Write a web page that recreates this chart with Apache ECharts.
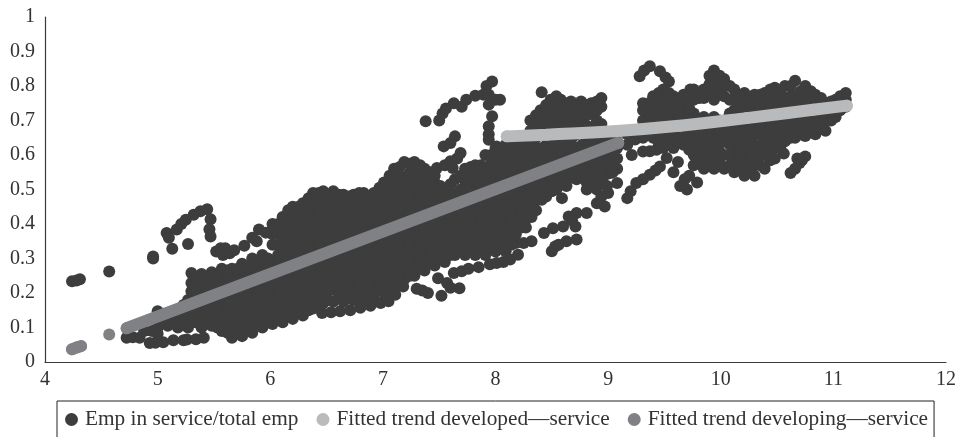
<!DOCTYPE html>
<html><head><meta charset="utf-8">
<script src="https://cdn.jsdelivr.net/npm/echarts@6/dist/echarts.min.js"></script>
<style>html,body{margin:0;padding:0;background:#fff}#c{width:959px;height:437px}</style>
</head><body><div id="c"></div>
<script>
const seriesNames = ["Emp in service/total emp","Fitted trend developed\u2014service","Fitted trend developing\u2014service"];
const empOutliers = [[4.24,.234],[4.28,.236],[4.31,.24],[4.57,.262],[4.96,.30],[4.96,.306],[5.13,.328],[5.27,.342],
 [5.08,.374],[5.1,.36],[5.17,.384],[5.21,.40],[5.25,.412],[5.32,.427],[5.38,.437],[5.44,.443],[5.47,.414],[5.46,.385],[5.47,.364],
 [5.52,.32],[5.56,.33],[5.6,.33],[5.58,.31],[5.64,.315],[5.68,.324],[5.77,.337],[5.84,.36],[5.9,.384],[5.88,.35],[5.96,.375],[6.02,.385],
 [4.725,.07],[4.78,.072],[4.84,.07],[4.93,.055],[4.98,.056],[5.05,.057],[5.14,.063],[5.23,.063],[5.26,.065],[5.34,.066],[5.41,.07],
 [4.88,.09],[4.95,.09],[5.0,.082]];
const empUpperChains = [[7.38,.698],[7.5,.7],[7.53,.72],[7.56,.735],[7.63,.75],[7.7,.74],[7.74,.76],[7.82,.772],[7.89,.775],[7.92,.8],[7.97,.813],[7.94,.775],[8.04,.76],[8.0,.76],[7.94,.746],[7.97,.712],[7.94,.683],[7.94,.66],[7.94,.644],[8.01,.625],
 [7.64,.654],[7.54,.625],[7.6,.635],[7.69,.606],[7.66,.59],[7.6,.582],[7.48,.562],[7.55,.57],[7.62,.562],[8.41,.782],[9.28,.828],[9.32,.845],[9.37,.857],[9.46,.843],[9.51,.825],[9.54,.813],[9.49,.79],[9.73,.79]];
const empLowerChains = [[6.46,.142],[6.54,.144],[6.62,.147],[6.71,.15],[6.8,.157],[6.89,.163],[6.98,.171],[7.05,.176],[7.11,.195],[7.18,.219],[7.3,.212],[7.4,.2],[7.35,.207],
 [7.49,.243],[7.57,.229],[7.52,.192],[7.68,.214],[7.6,.215],[7.63,.258],[7.7,.263],[7.76,.27],[7.85,.275],[7.95,.283],[8.01,.287],[8.07,.29],[8.13,.297],[8.2,.311],
 [8.25,.345],[8.32,.35],[8.43,.374],[8.51,.388],[8.6,.393],[8.65,.422],[8.72,.432],[8.81,.432],[8.71,.393],[8.68,.41],
 [8.5,.321],[8.53,.335],[8.56,.34],[8.63,.35],[8.72,.355],[8.59,.475],[8.81,.5],[8.9,.46],[8.97,.451],[8.94,.48],[9.0,.49],[9.08,.519],[9.02,.548],
 [9.21,.6],[9.31,.61],[9.43,.615],[9.37,.611],[9.52,.591],[9.46,.567],[9.42,.555],[9.37,.543],[9.31,.53],[9.25,.519],[9.2,.495],[9.17,.475],
 [9.58,.55],[9.62,.58],[9.64,.51],[9.70,.50],[9.79,.52],[9.72,.54],[9.76,.57],[9.68,.53],
 [10.56,.604],[10.75,.596],[10.72,.585],[10.70,.577],[10.68,.59],[10.66,.56],[10.62,.548]];
const empCloudWest = [
 [5.00,[.10,.125,.147]],[5.09,[.105,.13]],[5.18,[.10,.13,.145]],[5.27,[.10,.125,.155,.18]],
 [5.30,[.205,.229,.258]],[5.39,[.10,.13,.16,.19,.22,.255]],[5.48,[.105,.135,.165,.195,.225,.26]],
 [5.57,[.09,.12,.15,.18,.21,.24,.27]],[5.66,[.07,.10,.13,.16,.19,.22,.25,.27]],[5.75,[.075,.105,.135,.165,.195,.225,.255,.285]],
 [5.84,[.085,.12,.15,.18,.21,.24,.27,.30]],[5.93,[.10,.13,.16,.19,.22,.25,.28,.31]],
 [6.02,[.11,.14,.17,.20,.23,.26,.29,.34,.37,.40]],[6.11,[.115,.145,.175,.205,.235,.265,.295,.325,.355,.385,.42]],
 [6.20,[.125,.155,.185,.215,.245,.275,.305,.335,.365,.395,.425,.45]],[6.29,[.135,.165,.195,.225,.255,.285,.315,.345,.375,.405,.435,.46]],
 [6.38,[.155,.18,.21,.24,.27,.30,.33,.36,.39,.42,.45,.49]],[6.47,[.17,.195,.225,.255,.285,.315,.345,.375,.405,.435,.465,.495]],
 [6.56,[.175,.21,.24,.27,.30,.33,.36,.39,.42,.45,.48,.495]],[6.65,[.175,.205,.235,.265,.295,.325,.355,.385,.415,.445,.475,.485]],
 [6.74,[.18,.21,.24,.27,.30,.33,.36,.39,.42,.45,.485]],[6.83,[.18,.215,.245,.275,.305,.335,.365,.395,.425,.455,.49]],
 [6.92,[.185,.22,.25,.28,.31,.34,.37,.40,.43,.46,.49]]];
const empCloudWestInner = [
 [5.05,[.115,.14]],[5.14,[.115,.14]],[5.23,[.115,.14,.165]],[5.34,[.115,.145,.175,.205,.24]],[5.44,[.12,.15,.18,.21,.24]],
 [5.53,[.10,.13,.16,.19,.22,.25]],[5.62,[.085,.115,.145,.175,.205,.235,.265]],[5.71,[.09,.12,.15,.18,.21,.24,.27]],
 [5.80,[.095,.125,.155,.185,.215,.245,.275]],[5.89,[.11,.14,.17,.20,.23,.26,.29]],[5.98,[.125,.155,.185,.215,.245,.275,.30]],
 [6.07,[.13,.16,.19,.22,.25,.28,.31,.34,.37,.40]],[6.16,[.14,.17,.20,.23,.26,.29,.32,.35,.38,.41,.44]],
 [6.25,[.15,.18,.21,.24,.27,.30,.33,.36,.39,.42,.45]],[6.34,[.15,.18,.21,.24,.27,.30,.33,.36,.39,.42,.45,.475]],
 [6.43,[.165,.195,.225,.255,.285,.315,.345,.375,.405,.435,.465,.49]],[6.52,[.18,.21,.24,.27,.30,.33,.36,.39,.42,.45,.48]],
 [6.61,[.19,.22,.25,.28,.31,.34,.37,.40,.43,.46,.485]],[6.70,[.19,.22,.25,.28,.31,.34,.37,.40,.43,.46,.48]],
 [6.79,[.195,.225,.255,.285,.315,.345,.375,.405,.435,.465,.49]],[6.88,[.20,.23,.26,.29,.32,.35,.38,.41,.44,.47]],
 [6.97,[.21,.24,.27,.30,.33,.36,.39,.42,.45,.48,.505]]];
const empCloudEast = [
 [7.01,[.20,.225,.255,.285,.315,.345,.375,.405,.435,.465,.495,.52]],[7.10,[.22,.25,.28,.31,.34,.37,.40,.43,.46,.49,.52,.56]],
 [7.19,[.24,.265,.295,.325,.355,.385,.415,.445,.475,.505,.535,.58]],[7.28,[.25,.28,.31,.34,.37,.40,.43,.46,.49,.52,.55,.58]],
 [7.37,[.265,.295,.325,.355,.385,.415,.445,.475,.505,.535,.56]],[7.46,[.28,.31,.34,.37,.40,.43,.46,.49,.52,.54]],
 [7.55,[.29,.32,.35,.38,.41,.44,.47,.50]],[7.64,[.31,.335,.365,.395,.425,.455,.485,.53]],
 [7.73,[.31,.345,.375,.405,.435,.465,.495,.525,.56]],[7.82,[.31,.34,.37,.40,.43,.46,.49,.52,.55,.57]],
 [7.91,[.31,.345,.375,.405,.435,.465,.495,.525,.555,.60]],[8.00,[.32,.35,.38,.41,.44,.47,.50,.53,.56,.59,.62]],
 [8.09,[.32,.355,.385,.415,.445,.475,.505,.535,.565,.595,.63]],[8.18,[.345,.37,.40,.43,.46,.49,.52,.55,.58,.61,.65]],
 [8.27,[.39,.415,.445,.475,.505,.535,.565,.595,.625,.65]],[8.36,[.44,.47,.50,.53,.56,.59,.62,.65]],
 [8.45,[.48,.505,.535,.565,.595,.625,.65]],[8.54,[.50,.53,.56,.59,.62,.65]],[8.63,[.51,.545,.575,.605,.635,.66]],
 [8.72,[.53,.56,.59,.62,.66]],[8.81,[.52,.545,.575,.605,.635,.66]],[8.90,[.50,.53,.56,.59,.62,.66]],
 [8.99,[.51,.545,.575,.605,.65]],[9.08,[.56,.59,.62,.64]],[9.17,[.63,.66]],[9.24,[.645,.655]]];
const empCloudEastInner = [
 [7.06,[.21,.24,.27,.30,.33,.36,.39,.42,.45,.48,.51,.54]],[7.15,[.235,.265,.295,.325,.355,.385,.415,.445,.475,.505,.535,.565]],
 [7.24,[.25,.28,.31,.34,.37,.40,.43,.46,.49,.52,.55,.575]],[7.33,[.27,.30,.33,.36,.39,.42,.45,.48,.51,.54,.57]],
 [7.42,[.29,.32,.35,.38,.41,.44,.47,.50,.53,.55]],[7.51,[.30,.33,.36,.39,.42,.45,.48,.51]],
 [7.60,[.31,.34,.37,.40,.43,.46,.49,.515]],[7.69,[.32,.35,.38,.41,.44,.47,.50,.54]],
 [7.78,[.325,.355,.385,.415,.445,.475,.505,.535,.565]],[7.87,[.33,.36,.39,.42,.45,.48,.51,.54,.57]],
 [7.96,[.335,.365,.395,.425,.455,.485,.515,.545,.575,.60]],[8.05,[.335,.365,.395,.425,.455,.485,.515,.545,.575,.605]],
 [8.14,[.34,.37,.40,.43,.46,.49,.52,.55,.58,.61,.635]],[8.23,[.39,.42,.45,.48,.51,.54,.57,.60,.63]],
 [8.32,[.42,.45,.48,.51,.54,.57,.60,.63]],[8.41,[.47,.50,.53,.56,.59,.62]],[8.50,[.495,.525,.555,.585,.615,.645]],
 [8.59,[.52,.55,.58,.61,.64]],[8.68,[.535,.565,.595,.625,.65]],[8.77,[.54,.57,.60,.63]],[8.86,[.525,.555,.585,.615,.645]],
 [8.95,[.52,.55,.58,.61,.64]],[9.04,[.55,.58,.61,.64]]];
const empUpperCluster = [
 [8.31,[.67,.70]],[8.40,[.67,.70,.73]],[8.49,[.67,.70,.73,.76]],[8.58,[.67,.70,.73,.76]],[8.67,[.68,.71,.74,.755]],
 [8.76,[.67,.70,.73,.755]],[8.85,[.68,.72,.75]],[8.94,[.69,.74,.765]],
 [8.36,[.685,.715]],[8.45,[.685,.715,.745]],[8.54,[.685,.715,.745,.77]],[8.63,[.685,.715,.745]],[8.72,[.685,.715,.745]],
 [8.81,[.685,.715,.745]],[8.90,[.70,.73,.755]]];
const empRightCluster = [
 [9.31,[.65,.70,.73,.75]],[9.40,[.65,.68,.71,.74,.77]],[9.49,[.62,.65,.68,.71,.74,.77]],[9.58,[.62,.65,.68,.71,.74,.77]],
 [9.67,[.63,.66,.69,.72,.75,.775]],[9.76,[.60,.63,.66,.69,.72,.76,.79]],[9.85,[.56,.59,.62,.65,.68,.71,.765,.79]],
 [9.94,[.56,.59,.62,.65,.68,.71,.76,.79,.82,.845]],[10.03,[.56,.60,.64,.67,.70,.77,.80,.82]],
 [10.12,[.55,.58,.61,.64,.67,.70,.73,.76,.79]],[10.21,[.54,.57,.60,.63,.66,.69,.72,.75,.78]],
 [10.30,[.54,.57,.60,.63,.66,.69,.72,.75,.775]],[10.39,[.56,.60,.63,.66,.69,.72,.75,.78]],
 [10.48,[.59,.62,.65,.68,.71,.74,.77,.795]],[10.57,[.64,.67,.70,.73,.76,.80]],[10.66,[.65,.68,.71,.74,.77,.815]],
 [10.75,[.655,.68,.71,.74,.77,.80]],[10.84,[.66,.69,.72,.75,.775]],[10.93,[.67,.70,.72,.75]],[11.02,[.71,.74,.76]],[11.11,[.74,.76,.78]]];
const empRightClusterInner = [
 [9.36,[.66,.69,.72,.75]],[9.45,[.635,.665,.695,.725,.755,.78]],[9.54,[.635,.665,.695,.725,.755,.78]],[9.63,[.64,.67,.70,.73,.76]],
 [9.72,[.615,.645,.675,.705,.735,.77]],[9.81,[.58,.61,.64,.67,.70,.765]],[9.90,[.575,.605,.635,.665,.695,.775,.805,.83]],
 [9.99,[.575,.61,.64,.67,.70,.775,.805,.83]],[10.08,[.57,.60,.63,.66,.69,.72,.76,.80]],[10.17,[.56,.59,.62,.65,.68,.71,.74,.77]],
 [10.26,[.555,.585,.615,.645,.675,.705,.735,.765]],[10.35,[.57,.60,.63,.66,.69,.72,.75,.775]],
 [10.44,[.585,.615,.645,.675,.705,.735,.765,.79]],[10.53,[.625,.655,.685,.715,.745,.78]],[10.62,[.65,.68,.71,.74,.77,.80]],
 [10.71,[.66,.69,.72,.75,.785]],[10.80,[.665,.695,.725,.755,.785]],[10.89,[.68,.71,.74,.765]],[10.98,[.70,.73,.755]],[11.06,[.73,.755,.77]]];
const trendDeveloped = [[8.1,.654],[8.455,.659],[9.05,.669],[9.64,.685],[10.23,.707],[10.82,.731],[11.12,.743]];
const trendDeveloping = [[4.24,.037],[4.28,.042],[4.32,.046],[4.5,'-'],[4.57,.08],[4.65,'-'],[4.725,.098],[9.09,.635]];
const xTicks = {min:4,max:12,interval:1};
const yTicks = {min:0,max:1,interval:0.1};

const fromColumns = cols => cols.flatMap(([x,ys]) => ys.map(y => [x,y]));
const empData = [...empOutliers,...empUpperChains,...empLowerChains,
  ...fromColumns(empCloudWest),...fromColumns(empCloudWestInner),...fromColumns(empCloudEast),...fromColumns(empCloudEastInner),
  ...fromColumns(empUpperCluster),...fromColumns(empRightCluster),...fromColumns(empRightClusterInner)];

const fontFamily = '"Liberation Serif", serif';
const axisLine = {show:true,onZero:false,lineStyle:{color:'#3a3a3a',width:1.2}};
const axisLabel = {color:'#333',fontFamily,fontSize:20};
const chart = echarts.init(document.getElementById('c'),null,{renderer:'canvas'});
chart.setOption({
  animation:false,
  backgroundColor:'#fff',
  grid:{left:45,right:13,top:17,bottom:75},
  xAxis:{type:'value',...xTicks,axisLine,axisTick:{show:false},splitLine:{show:false},axisLabel:{...axisLabel,margin:8}},
  yAxis:{type:'value',...yTicks,axisLine,axisTick:{show:false},splitLine:{show:false},axisLabel:{...axisLabel,margin:10,padding:[4,0,0,0]}},
  legend:{
    left:57,top:401,orient:'horizontal',icon:'circle',itemWidth:13,itemHeight:13,itemGap:18,
    padding:[8,6,10,8],borderColor:'#222',borderWidth:1,
    textStyle:{fontFamily,fontSize:21.3,color:'#333',padding:[0,0,0,2]},
    data:seriesNames
  },
  series:[
    {name:seriesNames[0],type:'scatter',large:false,data:empData,symbolSize:12,itemStyle:{color:'#3d3d3d',opacity:1},z:1},
    {name:seriesNames[1],type:'line',data:trendDeveloped,smooth:true,showSymbol:true,showAllSymbol:true,symbol:'circle',symbolSize:12,
      itemStyle:{color:'#b9babc'},lineStyle:{color:'#b9babc',width:12,cap:'round'},z:3},
    {name:seriesNames[2],type:'line',data:trendDeveloping,showSymbol:true,showAllSymbol:true,symbol:'circle',symbolSize:12,connectNulls:false,
      itemStyle:{color:'#808184'},lineStyle:{color:'#808184',width:12,cap:'round'},z:2}
  ]
});
</script></body></html>
